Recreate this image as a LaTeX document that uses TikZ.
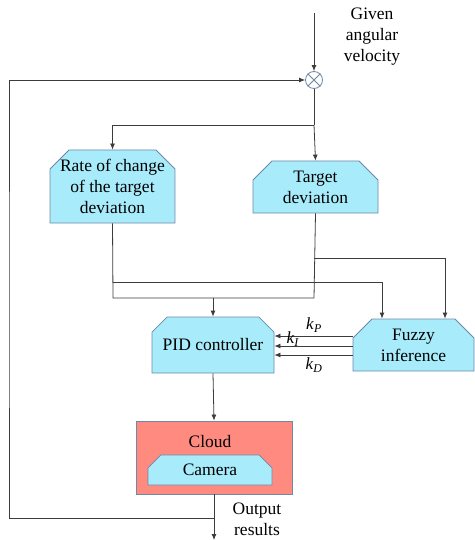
\documentclass[tikz,border=0pt]{standalone}
\usepackage{fontspec}
\setmainfont{Liberation Serif}
\usetikzlibrary{shapes.misc,arrows.meta,backgrounds}
\definecolor{boxfill}{HTML}{A8ECFC}
\definecolor{boxline}{HTML}{6F88A6}
\definecolor{cloudfill}{HTML}{FF8A80}
\definecolor{wire}{HTML}{3C3C3C}
\tikzset{
  blk/.style={chamfered rectangle, chamfered rectangle corners={north west,north east},
    chamfered rectangle xsep=10pt, chamfered rectangle ysep=9pt,
    draw=boxline, line width=0.8pt, fill=boxfill, inner sep=0pt, align=center,
    font=\fontsize{17.5}{21}\selectfont},
  txt/.style={align=center, inner sep=0pt, font=\fontsize{17.5}{21}\selectfont},
  lbl/.style={inner sep=0pt, font=\fontsize{17}{20}\selectfont},
  wireline/.style={draw=wire, line width=0.8pt},
  arr/.style={wireline, -{Latex[length=6pt,width=5pt]}},
}
\begin{document}
\begin{tikzpicture}[x=1pt,y=1pt]
\useasboundingbox (0,0) rectangle (474,-540);

% summing junction
\node[circle, draw=boxline, line width=0.8pt, minimum size=17pt, inner sep=0pt] (sum) at (314,-80) {};
\draw[boxline, line width=0.8pt] (sum.north west) -- (sum.south east) (sum.north east) -- (sum.south west);

% blocks
\node[blk, minimum width=123pt, minimum height=73pt] (rate) at (112.5,-186.5) {Rate of change\\of the target\\deviation};
\node[blk, minimum width=125pt, minimum height=52pt] (target) at (315.5,-187) {Target\\deviation};
\node[blk, minimum width=122pt, minimum height=56pt] (pid) at (213,-345) {PID controller};
\node[blk, minimum width=121pt, minimum height=52pt] (fuzzy) at (413.5,-345) {Fuzzy\\inference};
\node[rectangle, draw=boxline, line width=0.8pt, fill=cloudfill, minimum width=156pt, minimum height=73pt] (cloud) at (214,-457.5) {};
\node[txt] (cloudtxt) at (210,-442) {Cloud};
\node[blk, chamfered rectangle xsep=7pt, chamfered rectangle ysep=7pt, minimum width=124pt, minimum height=30pt] (camera) at (210,-470) {Camera};

% texts
\node[txt] (given) at (372,-37) {Given\\angular\\velocity};
\node[txt] (output) at (257,-519) {Output\\results};

% helper points
\coordinate (in) at (314,-13);
\coordinate (split) at (314,-125);
\coordinate (j1) at (113,-282);
\coordinate (j2) at (113,-298);
\coordinate (j3) at (314,-298);
\coordinate (j4) at (314,-258);
\coordinate (j5) at (213,-298);
\coordinate (fa) at (382,-282);
\coordinate (fb) at (445,-258);
\coordinate (fbk) at (214,-518);
\coordinate (fbl) at (9,-300);
\coordinate (out) at (214,-540);
\coordinate (gp) at (0,-336);
\coordinate (gi) at (0,-346);
\coordinate (gd) at (0,-355);

% connectors
\draw[arr] (in) -- (sum.north);
\draw[wireline] (sum.south) -- (split);
\draw[arr] (split) -- (target.north);
\draw[arr] (split) -| (rate.north);
\draw[wireline] (rate.south) -- (j2) -- (j3);
\draw[wireline] (target.south) -- (j3);
\draw[arr] (j1) -- (fa) -- (fa |- fuzzy.north);
\draw[arr] (j4) -- (fb) -- (fb |- fuzzy.north);
\draw[arr] (j5) -- (pid.north);
\draw[arr] (fuzzy.west |- gp) -- (pid.east |- gp);
\draw[arr] (fuzzy.west |- gi) -- (pid.east |- gi);
\draw[arr] (fuzzy.west |- gd) -- (pid.east |- gd);
\draw[arr] (pid.south) -- (cloud.north);
\draw[arr] (cloud.south) -- (out);
\draw[arr] (fbk) -| (fbl) |- (sum.west);

% gain labels
\node[lbl] (kp) at (314,-325) {\textit{k}\textsubscript{\textit{P}}};
\node[lbl] (ki) at (293,-339) {\textit{k}\textsubscript{\textit{I}}};
\node[lbl] (kd) at (314,-365) {\textit{k}\textsubscript{\textit{D}}};
\end{tikzpicture}
\end{document}
